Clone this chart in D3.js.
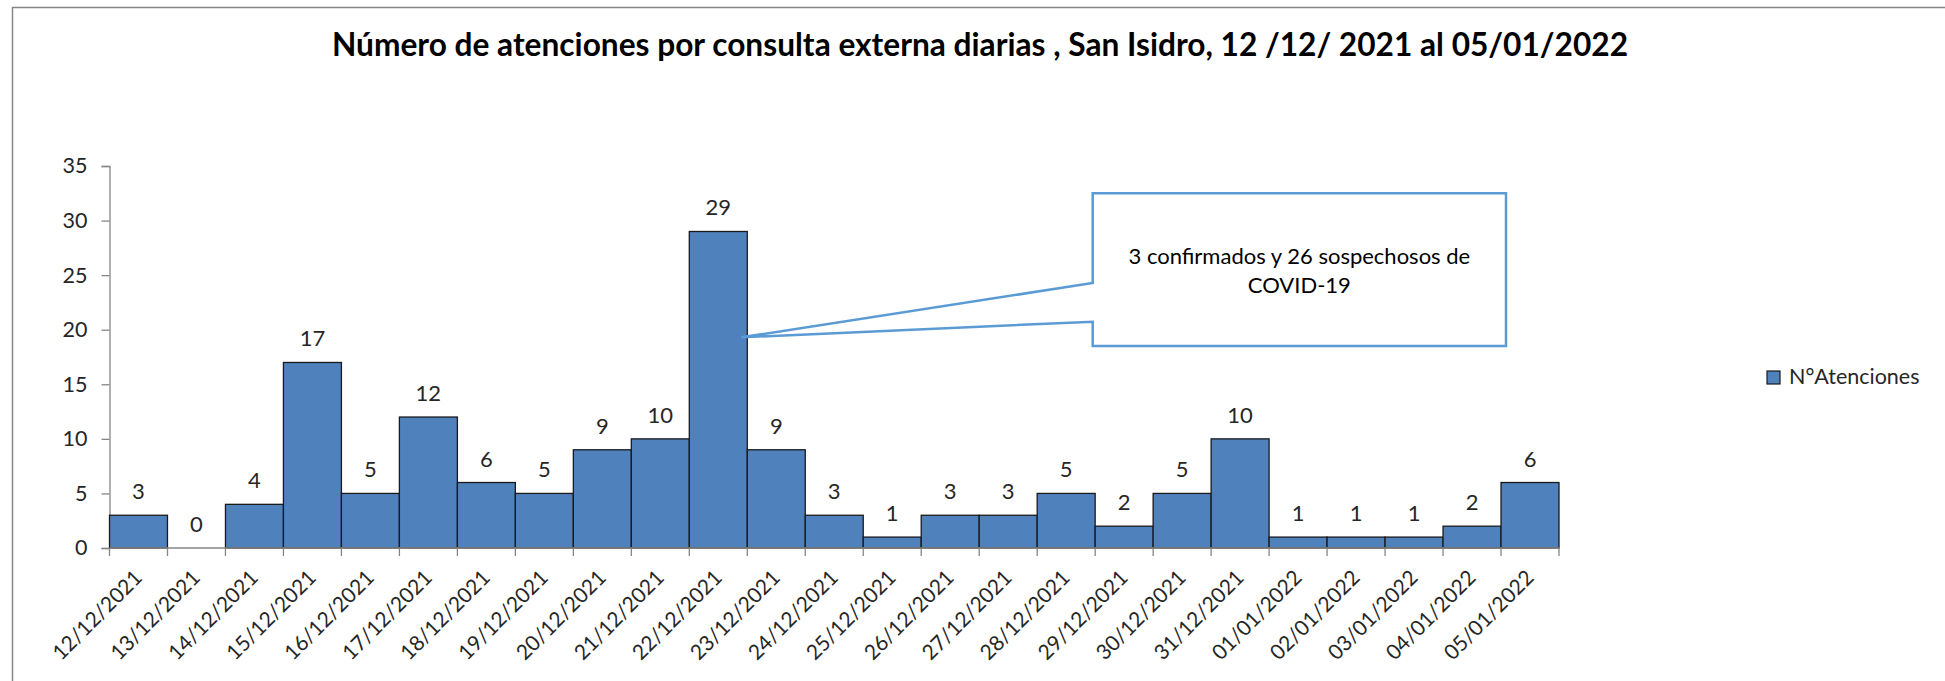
<!DOCTYPE html>
<html>
<head>
<meta charset="utf-8">
<script src="https://cdn.jsdelivr.net/npm/d3@7"></script>
<style>
  body { margin: 0; background: #fff; }
  svg { display: block; font-family: Lato, "Open Sans", sans-serif; }
</style>
</head>
<body>
<script>
// data
let fechas = ["12/12/2021", "13/12/2021", "14/12/2021", "15/12/2021", "16/12/2021", "17/12/2021",
    "18/12/2021", "19/12/2021", "20/12/2021", "21/12/2021", "22/12/2021", "23/12/2021",
    "24/12/2021", "25/12/2021", "26/12/2021", "27/12/2021", "28/12/2021", "29/12/2021",
    "30/12/2021", "31/12/2021", "01/01/2022", "02/01/2022", "03/01/2022", "04/01/2022", "05/01/2022"];
let atenciones = [3, 0, 4, 17, 5, 12, 6, 5, 9, 10, 29, 9, 3, 1, 3, 3, 5, 2, 5, 10, 1, 1, 1, 2, 6];
let yTicks = [0, 5, 10, 15, 20, 25, 30, 35];
let serieNombre = "N°Atenciones";
let titulo = "Número de atenciones por consulta externa diarias , San Isidro, 12 /12/ 2021 al 05/01/2022";
let nota = {fecha: "22/12/2021", lineas: ["3 confirmados y 26 sospechosos de", "COVID-19"]};

let width = 1945, height = 681;
let svg = d3.select("body").append("svg").attr("width", width).attr("height", height);

// chart frame (runs off the right and bottom edge like the source)
svg.append("rect")
    .attr("x", 12.5).attr("y", 7.5).attr("width", 2000).attr("height", 1000)
    .attr("fill", "none").attr("stroke", "#868686").attr("stroke-width", 1.5);

let x = d3.scaleBand().domain(fechas).range([109.5, 1559]).padding(0);
let y = d3.scaleLinear().domain([0, 35]).range([548, 166]);

// title, sized to the width it has in the source
let title = svg.append("text")
    .attr("x", 980).attr("y", 56)
    .attr("text-anchor", "middle")
    .attr("font-weight", "bold")
    .attr("font-size", 28)
    .attr("fill", "#000")
    .text(titulo);
let tl = title.node().getComputedTextLength();
title.attr("font-size", 28 * 1297 / tl);

// y axis
let yAxis = svg.append("g")
    .attr("transform", "translate(109.5,0)")
    .call(d3.axisLeft(y).tickValues(yTicks).tickSize(8).tickPadding(14));
yAxis.select(".domain").attr("stroke", "#868686").attr("stroke-width", 1.3);
yAxis.selectAll(".tick line").attr("stroke", "#868686").attr("stroke-width", 1.3);
yAxis.selectAll(".tick text").attr("font-size", 21.5).attr("fill", "#262626")
    .attr("font-family", "Lato, sans-serif");

// bars
svg.append("g").selectAll("rect")
    .data(atenciones)
    .join("rect")
    .attr("x", (d, i) => x(fechas[i]))
    .attr("y", d => y(d))
    .attr("width", x.bandwidth())
    .attr("height", d => y(0) - y(d))
    .attr("fill", "#4f81bd")
    .attr("stroke", "#1a1a1a")
    .attr("stroke-width", 1.3);

// x axis: line + ticks at category boundaries
let xg = svg.append("g");
xg.append("line")
    .attr("x1", 109.5).attr("x2", 1559).attr("y1", y(0)).attr("y2", y(0))
    .attr("stroke", "#868686").attr("stroke-width", 1.3);
let bordes = fechas.map(f => x(f)).concat([x.range()[1]]);
xg.selectAll("line.tk")
    .data(bordes)
    .join("line")
    .attr("class", "tk")
    .attr("x1", d => d).attr("x2", d => d)
    .attr("y1", y(0)).attr("y2", y(0) + 8)
    .attr("stroke", "#868686").attr("stroke-width", 1.3);
xg.selectAll("text")
    .data(fechas)
    .join("text")
    .attr("transform", d => `translate(${x(d) + x.bandwidth() / 2 + 5},${y(0) + 31}) rotate(-45)`)
    .attr("text-anchor", "end")
    .attr("font-size", 21)
    .attr("fill", "#262626")
    .text(d => d);

// value labels
svg.append("g").selectAll("text")
    .data(atenciones)
    .join("text")
    .attr("x", (d, i) => x(fechas[i]) + x.bandwidth() / 2)
    .attr("y", d => y(d) - 16)
    .attr("text-anchor", "middle")
    .attr("font-size", 22)
    .attr("fill", "#262626")
    .text(d => d);

// callout box with pointer onto the 22/12 bar
let tipX = x(nota.fecha) + x.bandwidth() - 6;
let tipY = y(19.3);
let bx0 = 1092.7, bx1 = 1506, by0 = 193.3, by1 = 346;
let callout = d3.path();
callout.moveTo(bx0, by0);
callout.lineTo(bx1, by0);
callout.lineTo(bx1, by1);
callout.lineTo(bx0, by1);
callout.lineTo(bx0, 321.7);
callout.lineTo(tipX, tipY);
callout.lineTo(bx0, 283);
callout.closePath();
svg.append("path")
    .attr("d", callout.toString())
    .attr("fill", "#fff")
    .attr("stroke", "#5b9bd5")
    .attr("stroke-width", 2.5)
    .attr("stroke-linejoin", "miter");
svg.append("g").selectAll("text")
    .data(nota.lineas)
    .join("text")
    .attr("x", (bx0 + bx1) / 2)
    .attr("y", (d, i) => 264 + i * 29)
    .attr("text-anchor", "middle")
    .attr("font-size", 22)
    .attr("fill", "#000")
    .text(d => d);

// legend
let legend = svg.append("g").attr("transform", "translate(1767,371)");
legend.append("rect")
    .attr("width", 13).attr("height", 13)
    .attr("fill", "#4f81bd").attr("stroke", "#1a1a1a").attr("stroke-width", 1.2);
legend.append("text")
    .attr("x", 22).attr("y", 12.5)
    .attr("font-size", 21.5)
    .attr("fill", "#262626")
    .text(serieNombre);
</script>
</body>
</html>
